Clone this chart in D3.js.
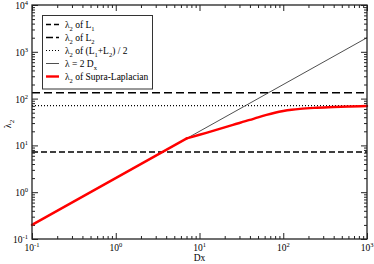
<!DOCTYPE html>
<html>
<head>
<meta charset="utf-8">
<script src="https://cdn.jsdelivr.net/npm/d3@7"></script>
<style>
  body { margin: 0; background: #fff; }
</style>
</head>
<body>
<div id="graph"></div>
<script>
'use strict';

// values
const xDecades = [-1, 0, 1, 2, 3];
const yDecades = [-1, 0, 1, 2, 3, 4];
const lambdaL1 = 7.2;
const lambdaL2 = 134;
const lambdaMean = (lambdaL1 + lambdaL2) / 2;
const linearDx = [0.1, 1000];            // lambda = 2 Dx
// supra-Laplacian: follows 2 Dx up to the kink, then bends towards (L1+L2)/2
const supraDx = [0.1, 7.05, 10, 15.85, 25.1, 39.8, 50.1, 63.1, 79.4, 100, 125.9, 158.5, 251, 398, 631, 1000];
const supraLambda = [0.2, 14.1, 16.9, 21.4, 27.4, 35, 39.8, 44.9, 49.9, 54.3, 57.8, 60.4, 63.7, 66.1, 67.9, 69.5];
const kinkIndex = 1;

(function() {
  const W = 374, H = 264;
  const left = 32, right = 367, top = 5, bottom = 239;
  const serif = '"Liberation Serif", "Times New Roman", "DejaVu Serif", serif';

  let svg = d3.select('#graph').append('svg')
    .attr('width', W)
    .attr('height', H)
    .attr('font-family', serif);

  let xScale = d3.scaleLog().domain([0.1, 1000]).range([left, right]);
  let yScale = d3.scaleLog().domain([0.1, 10000]).range([bottom, top]);

  // minor ticks 2..9 of every decade
  function minors(decades) {
    let out = [];
    decades.slice(0, -1).forEach(function(d) {
      for (let k = 2; k <= 9; k++) out.push(k * Math.pow(10, d));
    });
    return out;
  }
  let xMajor = xDecades.map(d => Math.pow(10, d));
  let yMajor = yDecades.map(d => Math.pow(10, d));

  // ticks on all four sides, pointing inwards
  function tickRow(axisFn, scale, values, size, tr) {
    svg.append('g')
      .attr('transform', tr)
      .call(axisFn(scale).tickValues(values).tickSize(size).tickFormat(''))
      .call(g => g.select('.domain').remove())
      .call(g => g.selectAll('line').attr('stroke', '#222').attr('stroke-width', 1));
  }
  tickRow(d3.axisBottom, xScale, xMajor, -6, `translate(0,${bottom})`);
  tickRow(d3.axisBottom, xScale, minors(xDecades), -3, `translate(0,${bottom})`);
  tickRow(d3.axisTop, xScale, xMajor, -6, `translate(0,${top})`);
  tickRow(d3.axisTop, xScale, minors(xDecades), -3, `translate(0,${top})`);
  tickRow(d3.axisLeft, yScale, yMajor, -6, `translate(${left},0)`);
  tickRow(d3.axisLeft, yScale, minors(yDecades), -3, `translate(${left},0)`);
  tickRow(d3.axisRight, yScale, yMajor, -6, `translate(${right},0)`);
  tickRow(d3.axisRight, yScale, minors(yDecades), -3, `translate(${right},0)`);

  // tick labels as 10 with a superscript
  function powLabel(sel, exp) {
    sel.append('tspan').text('10');
    sel.append('tspan').attr('dy', -4).style('font-size', '6.5px').text(exp);
  }
  xDecades.forEach(function(d) {
    let t = svg.append('text')
      .attr('x', xScale(Math.pow(10, d)))
      .attr('y', 251)
      .attr('text-anchor', 'middle')
      .attr('font-family', serif)
      .style('font-size', '9.5px');
    powLabel(t, d);
  });
  yDecades.forEach(function(d) {
    let t = svg.append('text')
      .attr('x', left - 4)
      .attr('y', yScale(Math.pow(10, d)) + 4)
      .attr('text-anchor', 'end')
      .attr('font-family', serif)
      .style('font-size', '9.5px');
    powLabel(t, d);
  });

  // axis titles
  svg.append('text')
    .attr('x', (left + right) / 2)
    .attr('y', 261)
    .attr('text-anchor', 'middle')
    .attr('font-family', serif)
    .style('font-size', '9.5px')
    .text('Dx');
  let yl = svg.append('text')
    .attr('transform', 'translate(11,124)rotate(-90)')
    .attr('text-anchor', 'middle')
    .attr('font-family', serif)
    .style('font-size', '10px');
  yl.append('tspan').text('λ');
  yl.append('tspan').attr('dy', 3).style('font-size', '7px').text('2');

  let plot = svg.append('g');

  // horizontal reference lines
  function hline(v, dash, width) {
    plot.append('line')
      .attr('x1', left).attr('x2', right)
      .attr('y1', yScale(v)).attr('y2', yScale(v))
      .attr('stroke', '#000')
      .attr('stroke-width', width)
      .attr('stroke-dasharray', dash);
  }
  hline(lambdaL1, '6,3', 1.5);
  hline(lambdaL2, '8,4', 1.5);
  hline(lambdaMean, '1,2', 1.2);

  // lambda = 2 Dx
  let line = d3.line().x(d => xScale(d[0])).y(d => yScale(d[1]));
  plot.append('path')
    .datum(linearDx.map(d => [d, 2 * d]))
    .attr('d', line)
    .attr('fill', 'none')
    .attr('stroke', '#222')
    .attr('stroke-width', 0.8);

  // supra-Laplacian: straight part, then smooth bend
  let supra = supraDx.map((d, i) => [d, supraLambda[i]]);
  plot.append('path')
    .datum(supra.slice(0, kinkIndex + 1))
    .attr('d', line)
    .attr('fill', 'none')
    .attr('stroke', '#ff0000')
    .attr('stroke-width', 2.4)
    .attr('stroke-linecap', 'round');
  plot.append('path')
    .datum(supra.slice(kinkIndex))
    .attr('d', d3.line().x(d => xScale(d[0])).y(d => yScale(d[1])).curve(d3.curveMonotoneX))
    .attr('fill', 'none')
    .attr('stroke', '#ff0000')
    .attr('stroke-width', 2.4)
    .attr('stroke-linecap', 'round');

  // frame
  svg.append('rect')
    .attr('x', left).attr('y', top)
    .attr('width', right - left).attr('height', bottom - top)
    .attr('fill', 'none')
    .attr('stroke', '#222')
    .attr('stroke-width', 1.3);

  // legend
  let lg = svg.append('g');
  lg.append('rect')
    .attr('x', 42.5).attr('y', 15.5)
    .attr('width', 110).attr('height', 73.5)
    .attr('fill', '#fff')
    .attr('stroke', '#333')
    .attr('stroke-width', 1);
  let rows = [
    {dash: '5,3', w: 1.5, c: '#000'},
    {dash: '7,3', w: 1.5, c: '#000'},
    {dash: '1,2', w: 1.2, c: '#000'},
    {dash: null, w: 0.8, c: '#222'},
    {dash: null, w: 2.4, c: '#ff0000'}
  ];
  rows.forEach(function(r, i) {
    let yy = 24.5 + 13 * i;
    lg.append('line')
      .attr('x1', 46).attr('x2', 59)
      .attr('y1', yy).attr('y2', yy)
      .attr('stroke', r.c)
      .attr('stroke-width', r.w)
      .attr('stroke-dasharray', r.dash);
    let t = lg.append('text')
      .attr('x', 65).attr('y', yy + 3.5)
      .attr('font-family', serif)
      .style('font-size', '9.5px');
    if (i === 3) {
      t.append('tspan').text('λ = 2 D');
      t.append('tspan').attr('dy', 2.5).style('font-size', '6.5px').text('x');
      return;
    }
    t.append('tspan').text('λ');
    t.append('tspan').attr('dy', 2.5).style('font-size', '6.5px').text('2');
    if (i === 0 || i === 1) {
      t.append('tspan').attr('dy', -2.5).text(' of L');
      t.append('tspan').attr('dy', 2.5).style('font-size', '6.5px').text(i === 0 ? '1' : '2');
    } else if (i === 2) {
      t.append('tspan').attr('dy', -2.5).text(' of (L');
      t.append('tspan').attr('dy', 2.5).style('font-size', '6.5px').text('1');
      t.append('tspan').attr('dy', -2.5).text('+L');
      t.append('tspan').attr('dy', 2.5).style('font-size', '6.5px').text('2');
      t.append('tspan').attr('dy', -2.5).text(') / 2');
    } else {
      t.append('tspan').attr('dy', -2.5).text(' of Supra-Laplacian');
    }
  });
})();
</script>
</body>
</html>
